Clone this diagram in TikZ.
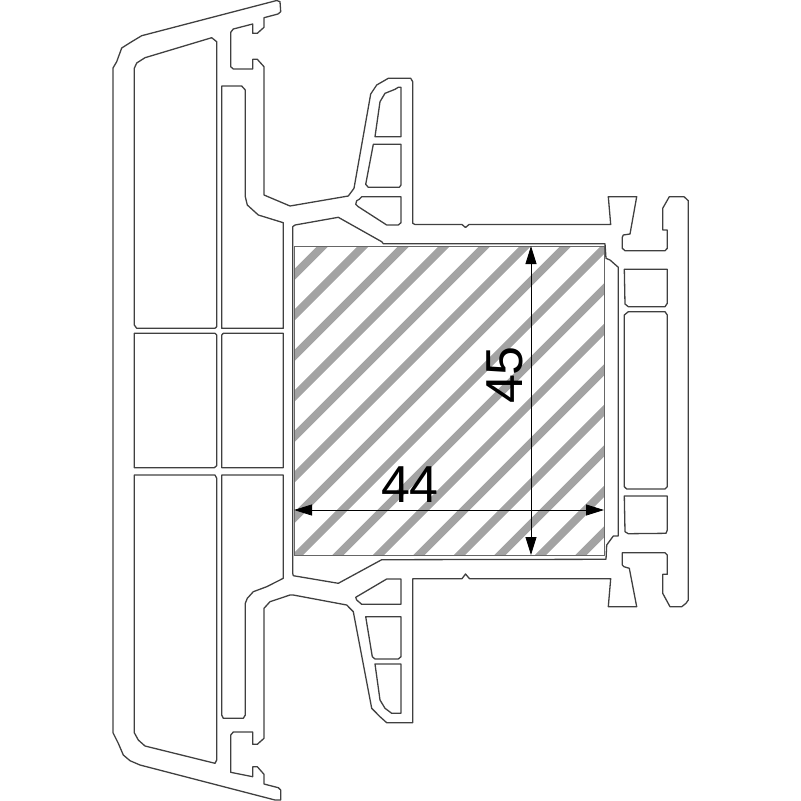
\documentclass[tikz,border=0pt]{standalone}
\usepackage{fontspec}
\setmainfont{Liberation Sans}
\usetikzlibrary{arrows.meta}
\definecolor{hatchgray}{gray}{0.64}
\tikzset{
  profile/.style={draw=black!75,line width=1.3pt,line join=round},
  woodedge/.style={draw=black!60,line width=1pt},
  hatchline/.style={draw=hatchgray,line width=8pt},
  dimline/.style={draw=black,line width=.8pt,{Triangle[length=18pt,width=11pt]}-{Triangle[length=18pt,width=11pt]}},
  dimtext/.style={inner sep=0pt,font=\fontsize{52}{52}\selectfont}
}
\begin{document}
\begin{tikzpicture}[x=1pt,y=-1pt]
  \useasboundingbox (0,0) rectangle (801,801);
  % hatched block
  \begin{scope}
    \clip (294,246) rectangle (604,555);
    \foreach \k in {-1,...,15} {
      \draw[hatchline] ({569+40.5*\k-600},600) -- ({569+40.5*\k-200},200);
    }
  \end{scope}
  \draw[woodedge] (294,246) rectangle (604,555);
  % outer contour
  \draw[profile] (113,68) -- (116.7,61.7) -- (121.7,48) -- (131.7,41.7) -- (141.7,35.7) -- (276.7,.5) -- (280,1.7) -- (280.7,11.7) -- (278,14) -- (264,17.7) -- (264,27.3) -- (257.3,33.3) -- (252.7,33.3) -- (252.7,24) -- (233.3,29) -- (230.7,32.3) -- (230.7,66.7) -- (233.3,69) -- (252.7,69) -- (252.7,59.3) -- (257.3,59.3) -- (264,66.7)
    -- (264,195) -- (290,206) -- (348.3,196) -- (354,188.3) -- (370.7,94) -- (376.7,85) -- (388.3,78.3) -- (410.7,78.3) -- (412.7,81.7) -- (412.7,223.3) -- (415,224.5) -- (462,224.5) -- (465.5,227.5) -- (469,224.5) -- (610.7,224.5) -- (608.3,196.7) -- (636.7,196.7) -- (630,234) -- (623.3,235) -- (622.3,237.3) -- (622.3,248.3) -- (625,250.7) -- (665,250.7) -- (667.3,248.3) -- (667.3,230) -- (662.7,230) -- (662.7,208.3) -- (669.3,196.7) -- (684,196.7) -- (688.3,200.7)
    -- (688.3,600) -- (686,603.3) -- (681.7,606.7) -- (670,606.7) -- (662.7,593.3) -- (662.7,574.3) -- (667.3,574.3) -- (667.3,555) -- (665,552.7) -- (622.3,552.7) -- (622.3,565) -- (624,566.7) -- (629.3,568.3) -- (636.7,606.7) -- (608.3,606.7) -- (610.7,578.7) -- (469.5,578.7) -- (465.5,574) -- (462,578.7) -- (412.7,578.7)
    -- (412.7,722.7) -- (386.7,722.7) -- (380,716.7) -- (371.7,708.3) -- (353.3,611.7) -- (346.7,605) -- (293.3,595) -- (290,595) -- (270,601.7) -- (264,608.3)
    -- (264,738.3) -- (257.3,744.3) -- (252.7,744.3) -- (252.7,732) -- (233.3,732) -- (230.7,735) -- (230.7,772.3) -- (252.7,776.7) -- (252.7,766.7) -- (257.3,766.7) -- (264,774.3) -- (264,784) -- (278.3,787.7) -- (280.7,790) -- (280.7,800) -- (275,800) -- (140,765) -- (130,760.7) -- (123.3,755) -- (118.3,743.3) -- (113,732.7) -- cycle;
  % left chambers
  \draw[profile] (134.3,68.3) -- (136.7,63) -- (145,57.7) -- (211.7,37.7) -- (216.7,41.7) -- (216.7,326.7) -- (215,328.3) -- (136.7,328.3) -- (134.3,325) -- cycle;
  \draw[profile] (221.7,86) -- (241.7,86) -- (245.3,90) -- (245.3,196.7) -- (247.3,205) -- (258.3,215) -- (283.3,222.7) -- (283.3,328.3) -- (221.7,328.3) -- cycle;
  \draw[profile] (134.3,333.3) -- (215,333.3) -- (216.7,335) -- (216.7,465.7) -- (214.3,467.7) -- (134.3,467.7) -- cycle;
  \draw[profile] (221.7,335) -- (223.3,333.3) -- (283.3,333.3) -- (283.3,467.7) -- (221.7,467.7) -- cycle;
  \draw[profile] (134.3,475) -- (215,475) -- (216.7,478.3) -- (216.7,760) -- (215,763.3) -- (145,746) -- (138.3,740) -- (134.3,732.7) -- cycle;
  \draw[profile] (221.7,475) -- (283.3,475) -- (283.3,578.3) -- (266.7,586.7) -- (253.3,591.7) -- (247.3,598.3) -- (245.3,603.3) -- (245.3,715) -- (243.3,718.3) -- (223.3,718.3) -- (221.7,715) -- cycle;
  % upper wing
  \draw[profile] (375,136.7) -- (380,101.7) -- (385,93.3) -- (395,89.3) -- (398.3,87.3) -- (401,87.3) -- (401,136.7) -- cycle;
  \draw[profile] (373.3,144.3) -- (401,144.3) -- (401,185) -- (399.3,187.3) -- (368.3,187.3) -- (365.7,184.3) -- cycle;
  \draw[profile] (361.7,196.7) -- (401,196.7) -- (401,222.7) -- (398.3,225) -- (386.7,225) -- (358.3,206.7) -- (355.7,204.3) -- (356.7,200.7) -- (359.3,199.3) -- cycle;
  % lower wing
  \draw[profile] (355.7,597.3) -- (386.7,579) -- (401,579) -- (401,604.3) -- (361.7,604.3) -- (356.7,600) -- cycle;
  \draw[profile] (365.7,616.7) -- (401,616.7) -- (401,656.7) -- (398.3,659) -- (375,659) -- (372.3,656.7) -- cycle;
  \draw[profile] (375,664) -- (401,664) -- (401,713.3) -- (391.7,713.3) -- (385,708.3) -- (380,700) -- cycle;
  % right chambers
  \draw[profile] (624.3,269.3) -- (667.3,269.3) -- (667.3,303.3) -- (665,306.7) -- (628.3,306.7) -- (625,304) -- cycle;
  \draw[profile] (628.3,311.7) -- (665,311.7) -- (667.3,315) -- (667.3,486.7) -- (665,489) -- (626.7,489) -- (624.3,486.7) -- (624.3,315) -- cycle;
  \draw[profile] (624.3,496) -- (667.3,496) -- (667.3,530) -- (666,533.3) -- (628.3,533.7) -- (625,531.7) -- cycle;
  % frame around the block
  \draw[profile] (292.7,226.7) -- (295,225) -- (338.3,217.3) -- (381.7,241.7) -- (383.3,243.7) -- (605,243.7) -- (606,258.3) -- (610,260) -- (618.3,267.3) -- (618.3,536) -- (613.3,536) -- (606.7,545) -- (606,559.3) -- (381.7,559.7) -- (338.3,583.3) -- (293.3,575.7) -- (292.7,573.3) -- cycle;
  % dimensions
  \coordinate (wleft) at (294,510);
  \coordinate (wright) at (604,510);
  \coordinate (htop) at (531,246);
  \coordinate (hbot) at (531,555);
  \draw[dimline] (wleft) -- (wright);
  \draw[dimline] (htop) -- (hbot);
  \node[dimtext] (width) at (410,485) {44};
  \node[dimtext,rotate=90] (height) at (505,375) {45};
\end{tikzpicture}
\end{document}
